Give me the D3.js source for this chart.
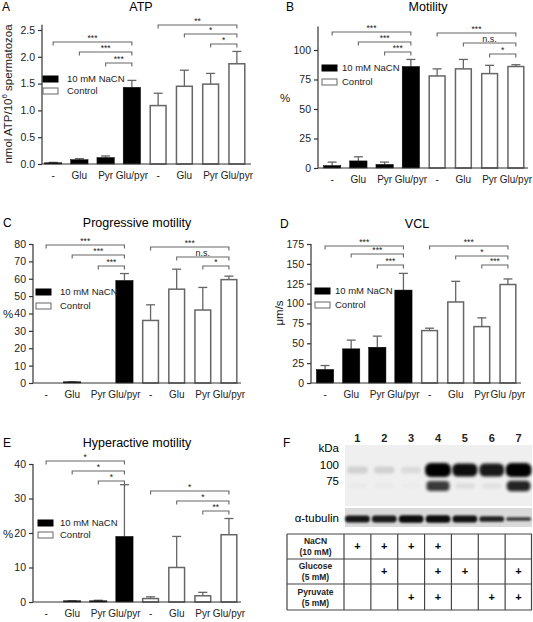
<!DOCTYPE html>
<html><head><meta charset="utf-8">
<script src="https://cdn.jsdelivr.net/npm/d3@7"></script>
<style>body{margin:0;background:#fff} svg{display:block;font-family:"Liberation Sans",Arial,sans-serif}</style>
</head><body><svg id="c" width="533" height="622"></svg>
<script>
// ---------------- DATA ----------------
const categories = ["-", "Glu", "Pyr", "Glu/pyr", "-", "Glu", "Pyr", "Glu/pyr"];
const categoriesVCL = ["-", "Glu", "Pyr", "Glu/pyr", "-", "Glu", "Pyr", "Glu /pyr"];
const groups = ["NaCN","NaCN","NaCN","NaCN","Control","Control","Control","Control"];
const legendLabels = ["10 mM NaCN", "Control"];

const atpMean  = [0.02, 0.08, 0.12, 1.43, 1.09, 1.45, 1.49, 1.87];
const atpErr   = [0.01, 0.02, 0.03, 0.13, 0.23, 0.30, 0.20, 0.23];
const atpTicks = [0, 0.5, 1.0, 1.5, 2.0, 2.5];

const motMean  = [2, 6, 3, 86, 78, 84, 80, 86];
const motErr   = [3, 3.5, 2, 6, 6, 8, 7, 1.5];
const motTicks = [0, 25, 50, 75, 100];

const progMean = [0, 0.4, 0, 59, 36, 54, 42, 59.5];
const progErr  = [0, 0.2, 0, 4, 9, 11.5, 13, 2];
const progTicks = [0, 10, 20, 30, 40, 50, 60, 70, 80];

const vclMean  = [17, 43, 45, 117, 66, 102, 71, 124];
const vclErr   = [5, 11, 14, 21, 3, 26, 11, 7];
const vclTicks = [0, 25, 50, 75, 100, 125, 150, 175];

const hypMean  = [0, 0.2, 0.2, 19, 1.0, 10, 1.8, 19.5];
const hypErr   = [0, 0.1, 0.3, 15, 0.5, 9, 1.0, 4.7];
const hypTicks = [0, 10, 20, 30, 40];

// significance brackets: [fromBar, toBar, label]
const atpSig  = [[0,3,"***"],[1,3,"***"],[2,3,"***"],[4,7,"**"],[5,7,"*"],[6,7,"*"]];
const motSig  = [[0,3,"***"],[1,3,"***"],[2,3,"***"],[4,7,"***"],[5,7,"n.s."],[6,7,"*"]];
const progSig = [[0,3,"***"],[1,3,"***"],[2,3,"***"],[4,7,"***"],[5,7,"n.s."],[6,7,"*"]];
const vclSig  = [[0,3,"***"],[1,3,"***"],[2,3,"***"],[4,7,"***"],[5,7,"*"],[6,7,"***"]];
const hypSig  = [[0,3,"*"],[1,3,"*"],[2,3,"*"],[4,7,"*"],[5,7,"*"],[6,7,"**"]];

// western blot
const laneLabels = ["1","2","3","4","5","6","7"];
const band100 = [0.12, 0.12, 0.08, 1.0, 0.9, 0.85, 1.0];
const band75  = [0.02, 0.02, 0.01, 0.8, 0.08, 0.06, 0.9];
const tubulin = [0.9, 0.88, 0.95, 0.95, 0.92, 0.85, 0.75];
const tubulinThick = [1, 1, 1.1, 1.1, 1, 0.8, 0.5];
const kdaLabels = ["100", "75"];
const treatRows = [["NaCN","(10 mM)"],["Glucose","(5 mM)"],["Pyruvate","(5 mM)"]];
const nacnPlus     = [1,1,1,1,0,0,0];
const glucosePlus  = [0,1,0,1,1,0,1];
const pyruvatePlus = [0,0,1,1,0,1,1];

// ---------------- DRAW ----------------
const svg = d3.select("#c");
const AX = "#333", GR = "#666";

function barPanel(c) {
  const g = svg.append("g");
  const y = d3.scaleLinear().domain([0, c.top]).range([c.y0, c.yTop]);
  const x = d3.scaleBand().domain(d3.range(c.means.length)).range(c.range).paddingInner(0.34).paddingOuter(0.17);
  const bw = x.bandwidth();
  g.append("text").attr("x", c.letterX).attr("y", c.titleY).attr("dy","0.35em").attr("font-size",12).text(c.letter);
  g.append("text").attr("x", c.titleX).attr("y", c.titleY).attr("dy","0.35em").attr("font-size",12.5).attr("text-anchor","middle").text(c.title);
  c.means.forEach((m,i)=>{
    const ctl = groups[i] === "Control";
    const cx = x(i) + bw/2;
    const top = y(m + c.errs[i]);
    if (c.errs[i] > 0) {
      g.append("line").attr("x1",cx).attr("x2",cx).attr("y1",y(m)).attr("y2",top).attr("stroke",GR).attr("stroke-width",1.3);
      g.append("line").attr("x1",cx-4.5).attr("x2",cx+4.5).attr("y1",top).attr("y2",top).attr("stroke",GR).attr("stroke-width",1.3);
    }
    if (m > 0) {
      const h = Math.max(c.y0 - y(m), 1.2);
      g.append("rect").attr("x", x(i)+ (ctl?0.75:0)).attr("y", c.y0 - h).attr("width", bw - (ctl?1.5:0)).attr("height", h)
        .attr("fill", ctl ? "#fff" : "#000").attr("stroke", ctl ? GR : "#000").attr("stroke-width", ctl ? 1.5 : 0.5);
    }
  });
  const ya = g.append("g").attr("transform",`translate(${c.axisX},0)`)
    .call(d3.axisLeft(y).tickValues(c.ticks).tickSize(4).tickSizeOuter(0).tickFormat(c.fmt || (d=>d)));
  ya.select(".domain").attr("stroke",AX).attr("stroke-width",1.2).attr("d",`M0,${c.y0}V${y(c.axisTop)}`);
  ya.selectAll(".tick line").attr("stroke",AX).attr("stroke-width",1.2);
  ya.selectAll(".tick text").attr("font-size",10.5).attr("fill","#222").attr("font-family","Liberation Sans, Arial");
  g.append("line").attr("x1",c.axisX).attr("x2",c.axisEnd).attr("y1",c.y0).attr("y2",c.y0).attr("stroke",AX).attr("stroke-width",1.2);
  c.cats.forEach((t,i)=>{
    g.append("text").attr("x", x(i)+bw/2).attr("y", c.y0 + 15).attr("font-size",10).attr("text-anchor","middle").attr("fill","#222").text(t);
  });
  c.sig.forEach((s,k)=>{
    const by = c.sigY[k];
    const xa = x(s[0])+bw/2, xb = x(s[1])+bw/2;
    g.append("path").attr("d",`M${xa},${by+3.5}V${by}H${xb}V${by+3.5}`).attr("fill","none").attr("stroke",GR).attr("stroke-width",1.1);
    g.append("text").attr("x",(xa+xb)/2).attr("y", by - 1.5).attr("font-size", s[2]==="n.s."?9:8.5).attr("text-anchor","middle").attr("fill","#222").text(s[2]);
  });
  legendLabels.forEach((l,k)=>{
    const ly = c.legY + k*c.legGap;
    g.append("rect").attr("x",c.legX).attr("y",ly-3).attr("width",15).attr("height",6)
      .attr("fill", k ? "#fff" : "#000").attr("stroke", k ? GR : "#000").attr("stroke-width",1);
    g.append("text").attr("x",c.legTX).attr("y",ly).attr("dy","0.35em").attr("font-size",9.5).attr("fill","#222").text(l);
  });
  if (c.ylabelRot) {
    const t = g.append("text").attr("transform",`translate(${c.ylabX},${c.ylabY}) rotate(-90)`).attr("text-anchor","middle").attr("font-size",11.5).attr("fill","#222");
    c.ylabelRot(t);
  } else {
    g.append("text").attr("x",c.ylabX).attr("y",c.ylabY).attr("dy","0.35em").attr("font-size",11.5).attr("fill","#222").text(c.ylabel);
  }
}

barPanel({letter:"A", letterX:2, title:"ATP", titleX:141, titleY:7,
  range:[40,250], axisX:42, axisEnd:251, y0:164, yTop:30, top:2.5, axisTop:2.6, ticks:atpTicks, fmt:d3.format(".1f"),
  means:atpMean, errs:atpErr, cats:categories, sig:atpSig, sigY:[42,52,63,25,34,44],
  legX:43, legTX:67, legY:79, legGap:12,
  ylabX:12, ylabY:94, ylabelRot: t=>{ t.append("tspan").text("nmol ATP/10"); t.append("tspan").attr("font-size",8).attr("dy",-5).text("6"); t.append("tspan").attr("dy",5).text(" spermatozoa"); }});

barPanel({letter:"B", letterX:286, title:"Motility", titleX:428, titleY:7,
  range:[319,529], axisX:318, axisEnd:528, y0:168, yTop:50, top:100, axisTop:120, ticks:motTicks,
  means:motMean, errs:motErr, cats:categories, sig:motSig, sigY:[32,42,52,33,43,54],
  legX:322, legTX:342, legY:68, legGap:14, ylabX:280, ylabY:98, ylabel:"%"});

barPanel({letter:"C", letterX:3, title:"Progressive motility", titleX:137, titleY:223,
  range:[33,242], axisX:33, axisEnd:241, y0:383, yTop:244, top:80, axisTop:80, ticks:progTicks,
  means:progMean, errs:progErr, cats:categories, sig:progSig, sigY:[245,255,266,247,257,266],
  legX:36, legTX:60, legY:292, legGap:14, ylabX:3, ylabY:314, ylabel:"%"});

barPanel({letter:"D", letterX:280, title:"VCL", titleX:417, titleY:224,
  range:[312,521], axisX:311, axisEnd:521, y0:383, yTop:244, top:175, axisTop:175, ticks:vclTicks,
  means:vclMean, errs:vclErr, cats:categoriesVCL, sig:vclSig, sigY:[246,254,265,246,256,265],
  legX:315, legTX:335, legY:291, legGap:14, ylabX:283, ylabY:313, ylabelRot: t=>t.text("μm/s")});

barPanel({letter:"E", letterX:3, title:"Hyperactive motility", titleX:137, titleY:443,
  range:[33,242], axisX:33, axisEnd:241, y0:602, yTop:464, top:40, axisTop:40, ticks:hypTicks,
  means:hypMean, errs:hypErr, cats:categories, sig:hypSig, sigY:[461,471,481,491,501,511],
  legX:38, legTX:60, legY:523, legGap:12, ylabX:3, ylabY:534, ylabel:"%"});

// ---------------- PANEL F ----------------
(function(){
  const g = svg.append("g");
  const defs = svg.append("defs");
  defs.append("filter").attr("id","blur").attr("x","-30%").attr("y","-60%").attr("width","160%").attr("height","220%")
    .append("feGaussianBlur").attr("stdDeviation",1.6);
  defs.append("filter").attr("id","blur2").attr("x","-30%").attr("y","-60%").attr("width","160%").attr("height","220%")
    .append("feGaussianBlur").attr("stdDeviation",1.0);
  const lx = d3.scaleBand().domain(laneLabels).range([344,532]);
  const st = lx.bandwidth();
  g.append("text").attr("x",283).attr("y",443).attr("dy","0.35em").attr("font-size",12).text("F");
  laneLabels.forEach(l=>g.append("text").attr("x",lx(l)+st/2).attr("y",438).attr("dy","0.35em").attr("font-size",11).attr("font-weight","bold").attr("text-anchor","middle").attr("fill","#222").text(l));
  g.append("text").attr("x",339).attr("y",448).attr("dy","0.35em").attr("font-size",11.5).attr("text-anchor","end").text("kDa");
  g.append("text").attr("x",339).attr("y",465).attr("dy","0.35em").attr("font-size",11.5).attr("text-anchor","end").text(kdaLabels[0]);
  g.append("text").attr("x",339).attr("y",481).attr("dy","0.35em").attr("font-size",11.5).attr("text-anchor","end").text(kdaLabels[1]);
  g.append("text").attr("x",339).attr("y",518).attr("dy","0.35em").attr("font-size",11.5).attr("text-anchor","end").text("α-tubulin");
  g.append("rect").attr("x",345).attr("y",445).attr("width",187).attr("height",61).attr("fill","#efefef");
  g.append("rect").attr("x",345).attr("y",508).attr("width",187).attr("height",19).attr("fill","#dadada");
  const bands = g.append("g");
  laneLabels.forEach((l,i)=>{
    const cx = lx(l)+st/2;
    const v1 = band100[i];
    const w1 = st*(0.72 + 0.24*v1), h1 = 6 + 8*v1;
    bands.append("rect").attr("x",cx-w1/2).attr("y",470-h1/2).attr("width",w1).attr("height",h1).attr("rx",h1/2.5)
      .attr("fill","#000").attr("opacity",Math.min(1,v1*1.05)).attr("filter","url(#blur)");
    const v2 = band75[i];
    const w2 = st*(0.7 + 0.2*v2), h2 = 5 + 6*v2;
    bands.append("rect").attr("x",cx-w2/2).attr("y",486-h2/2).attr("width",w2).attr("height",h2).attr("rx",h2/2.5)
      .attr("fill","#111").attr("opacity",v2).attr("filter","url(#blur)");
    const v3 = tubulin[i], h3 = 7*tubulinThick[i];
    const w3 = st*0.92;
    bands.append("rect").attr("x",cx-w3/2).attr("y",519-h3/2).attr("width",w3).attr("height",h3).attr("rx",h3/2.2)
      .attr("fill","#000").attr("opacity",v3).attr("filter","url(#blur2)");
  });
  const rowsY = [534, 559, 584, 610];
  const tx0 = 287;
  const t = g.append("g");
  const flags = [nacnPlus, glucosePlus, pyruvatePlus];
  treatRows.forEach((r,k)=>{
    const cy = (rowsY[k]+rowsY[k+1])/2;
    t.append("text").attr("x",(tx0+344)/2).attr("y",cy-5).attr("dy","0.35em").attr("font-size",8.5).attr("font-weight","bold").attr("text-anchor","middle").attr("fill","#222").text(r[0]);
    t.append("text").attr("x",(tx0+344)/2).attr("y",cy+6).attr("dy","0.35em").attr("font-size",8.5).attr("font-weight","bold").attr("text-anchor","middle").attr("fill","#222").text(r[1]);
    flags[k].forEach((f,i)=>{ if (f) t.append("text").attr("x",lx(laneLabels[i])+st/2).attr("y",cy).attr("dy","0.35em").attr("font-size",11).attr("font-weight","bold").attr("text-anchor","middle").text("+"); });
  });
  rowsY.forEach(yv=>t.append("line").attr("x1",tx0).attr("x2",532).attr("y1",yv).attr("y2",yv).attr("stroke","#444").attr("stroke-width",1.2));
  [tx0].concat(laneLabels.map(l=>lx(l)), [531.5]).forEach(xv=>t.append("line").attr("x1",xv).attr("x2",xv).attr("y1",rowsY[0]).attr("y2",rowsY[3]).attr("stroke","#444").attr("stroke-width",1.2));
})();
</script></body></html>
